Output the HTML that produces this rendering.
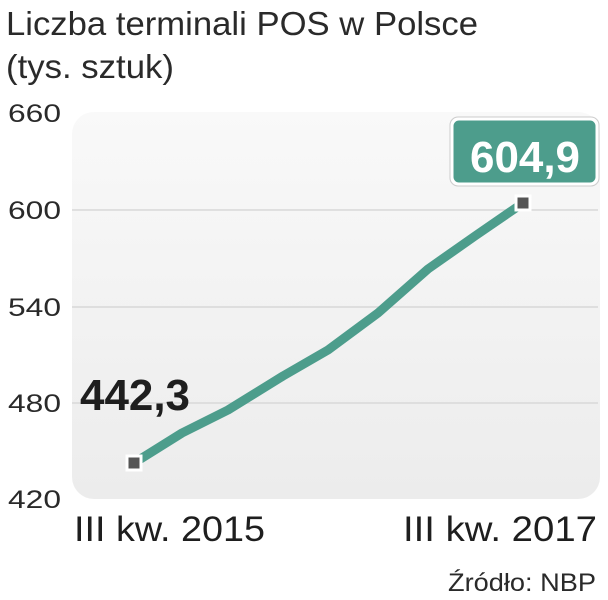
<!DOCTYPE html>
<html><head><meta charset="utf-8"><style>
html,body{margin:0;padding:0;background:#fff;}
svg{display:block;font-family:"Liberation Sans",sans-serif;}
</style></head><body>
<svg width="608" height="600" viewBox="0 0 608 600">
<defs>
<linearGradient id="bg" x1="0" y1="0" x2="0" y2="1">
<stop offset="0" stop-color="#f9f9f9"/><stop offset="1" stop-color="#ececec"/>
</linearGradient>
</defs>
<text x="6" y="35" font-size="33" fill="#2a2a2a" textLength="472" lengthAdjust="spacingAndGlyphs">Liczba terminali POS w Polsce</text>
<text x="6" y="78" font-size="33" fill="#2a2a2a" textLength="168" lengthAdjust="spacingAndGlyphs">(tys. sztuk)</text>
<rect x="72" y="112" width="528" height="387" rx="22" fill="url(#bg)"/>
<g stroke="#d8d8d8" stroke-width="1.5">
<line x1="72" y1="210" x2="598" y2="210"/>
<line x1="72" y1="307" x2="598" y2="307"/>
<line x1="72" y1="403" x2="598" y2="403"/>
</g>
<g font-size="25" fill="#2a2a2a">
<text x="8" y="122" textLength="53" lengthAdjust="spacingAndGlyphs">660</text>
<text x="8" y="219" textLength="53" lengthAdjust="spacingAndGlyphs">600</text>
<text x="8" y="316" textLength="53" lengthAdjust="spacingAndGlyphs">540</text>
<text x="8" y="412" textLength="53" lengthAdjust="spacingAndGlyphs">480</text>
<text x="8" y="508" textLength="53" lengthAdjust="spacingAndGlyphs">420</text>
</g>
<polyline points="134,463 182,433 228,410 283,376 328,350 378,313 428,269 475,236 523,203" fill="none" stroke="#4d9d8c" stroke-width="9" stroke-linejoin="round" stroke-linecap="round"/>
<rect x="127" y="456" width="14" height="14" fill="#555" stroke="#fff" stroke-width="3"/>
<rect x="516" y="196" width="14" height="14" fill="#555" stroke="#fff" stroke-width="3"/>
<rect x="452" y="119" width="145" height="65" rx="7" fill="#4d9d8c" stroke="#fff" stroke-width="3"/>
<rect x="450" y="117" width="149" height="69" rx="8" fill="none" stroke="#ccc" stroke-width="1"/>
<text x="470" y="172" font-size="44" font-weight="bold" fill="#fff" textLength="110" lengthAdjust="spacingAndGlyphs">604,9</text>
<text x="80" y="410" font-size="44" font-weight="bold" fill="#1e1e1e" textLength="110" lengthAdjust="spacingAndGlyphs">442,3</text>
<text x="74" y="541" font-size="35" fill="#1e1e1e" textLength="191" lengthAdjust="spacingAndGlyphs">III kw. 2015</text>
<text x="403" y="541" font-size="35" fill="#1e1e1e" textLength="194" lengthAdjust="spacingAndGlyphs">III kw. 2017</text>
<text x="448" y="591" font-size="25" fill="#2a2a2a" textLength="148" lengthAdjust="spacingAndGlyphs">Źródło: NBP</text>
</svg>
</body></html>
